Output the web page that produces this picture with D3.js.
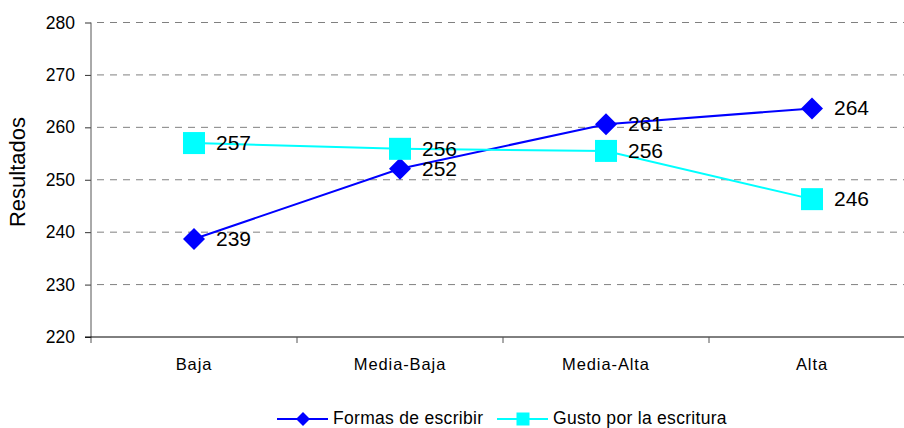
<!DOCTYPE html>
<html>
<head>
<meta charset="utf-8">
<script src="https://cdn.jsdelivr.net/npm/d3@7/dist/d3.min.js"></script>
<style>
  html, body { margin: 0; padding: 0; background: #fff; }
  svg { display: block; font-family: "Liberation Sans", Arial, sans-serif; }
</style>
</head>
<body>
<svg id="chart" width="904" height="428"></svg>
<script>
// Niveles de la variable y resultados por serie
const categories = ["Baja", "Media-Baja", "Media-Alta", "Alta"];
const formasValues = [238.7, 252.1, 260.6, 263.6];
const gustoValues = [257.0, 255.9, 255.5, 246.3];
const yTicks = [220, 230, 240, 250, 260, 270, 280];
const seriesNames = ["Formas de escribir", "Gusto por la escritura"];

const svg = d3.select("#chart");
const plotLeft = 91, plotRight = 915, plotTop = 22.5, plotBottom = 337;

const x = d3.scaleBand().domain(categories).range([plotLeft, plotRight]);
const y = d3.scaleLinear().domain([220, 280]).range([plotBottom, plotTop]);

// Gridlines (dashed)
svg.append("g").selectAll("line")
  .data(yTicks.filter(d => d !== 220))
  .join("line")
  .attr("x1", plotLeft).attr("x2", plotRight)
  .attr("y1", d => y(d)).attr("y2", d => y(d))
  .attr("stroke", "#808080").attr("stroke-width", 1)
  .attr("stroke-dasharray", "7,6").attr("stroke-dashoffset", -6);

// Y axis
const yAxis = d3.axisLeft(y).tickValues(yTicks).tickSize(6).tickPadding(10);
const gy = svg.append("g").attr("transform", `translate(${plotLeft},0)`).call(yAxis);
gy.select(".domain").remove();
gy.append("line").attr("x1", 0).attr("x2", 0).attr("y1", plotTop).attr("y2", plotBottom + 6)
  .attr("stroke", "#555").attr("stroke-width", 1);
gy.selectAll(".tick line").attr("stroke", "#333");
gy.selectAll(".tick text").attr("font-size", 17.5).attr("fill", "#000")
  .attr("font-family", "Liberation Sans, Arial, sans-serif");

// X axis
const gx = svg.append("g").attr("transform", `translate(0,${plotBottom})`);
gx.append("line").attr("x1", plotLeft - 6).attr("x2", plotRight).attr("y1", 0).attr("y2", 0)
  .attr("stroke", "#000").attr("stroke-width", 1);
gx.selectAll("line.tk").data(categories.slice(1)).join("line").attr("class", "tk")
  .attr("x1", d => x(d)).attr("x2", d => x(d)).attr("y1", 0).attr("y2", 6)
  .attr("stroke", "#555");
gx.selectAll("text").data(categories).join("text")
  .attr("x", d => x(d) + x.bandwidth() / 2).attr("y", 33)
  .attr("text-anchor", "middle").attr("font-size", 16.5).attr("letter-spacing", 0.9)
  .attr("fill", "#000").text(d => d);

// Y title
svg.append("text").attr("transform", "translate(25,172) rotate(-90)")
  .attr("text-anchor", "middle").attr("font-size", 22).attr("fill", "#000")
  .text("Resultados");

const cx = d => x(d) + x.bandwidth() / 2;
const lineGen = d3.line().x(d => cx(d.c)).y(d => y(d.v));
const fmt = d3.format(".0f");

const series = [
  { name: seriesNames[0], values: formasValues, color: "#0000FF", shape: "diamond" },
  { name: seriesNames[1], values: gustoValues, color: "#00FFFF", shape: "square" }
];

function drawMarker(g, shape, color, px, py) {
  if (shape === "diamond") {
    const r = 11;
    g.append("path").attr("d", `M${px},${py - r}L${px + r},${py}L${px},${py + r}L${px - r},${py}Z`)
      .attr("fill", color);
  } else {
    const s = 22;
    g.append("rect").attr("x", px - s / 2).attr("y", py - s / 2)
      .attr("width", s).attr("height", s).attr("fill", color);
  }
}

// Lines first, then markers and labels
series.forEach(s => {
  const pts = s.values.map((v, i) => ({ c: categories[i], v }));
  svg.append("path").datum(pts).attr("d", lineGen)
    .attr("fill", "none").attr("stroke", s.color).attr("stroke-width", 2);
});
series.forEach(s => {
  const g = svg.append("g");
  s.values.forEach((v, i) => {
    drawMarker(g, s.shape, s.color, cx(categories[i]), y(v));
    g.append("text").attr("x", cx(categories[i]) + 22).attr("y", y(v) + 7)
      .attr("font-size", 21).attr("fill", "#000").text(fmt(v));
  });
});

// Legend
const lg = svg.append("g").attr("transform", "translate(0,419)");
const legendItems = [
  { s: series[0], x0: 277 },
  { s: series[1], x0: 497 }
];
legendItems.forEach(({ s, x0 }) => {
  lg.append("line").attr("x1", x0).attr("x2", x0 + 51).attr("y1", 0).attr("y2", 0)
    .attr("stroke", s.color).attr("stroke-width", 2);
  const gm = lg.append("g");
  const px = x0 + 26;
  if (s.shape === "diamond") {
    const r = 7;
    gm.append("path").attr("d", `M${px},${-r}L${px + r},0L${px},${r}L${px - r},0Z`).attr("fill", s.color);
  } else {
    gm.append("rect").attr("x", px - 6.5).attr("y", -6.5).attr("width", 13).attr("height", 13).attr("fill", s.color);
  }
  lg.append("text").attr("x", x0 + 56).attr("y", 4.5).attr("font-size", 17.5)
    .attr("letter-spacing", 0.3).attr("fill", "#000").text(s.name);
});
</script>
</body>
</html>
